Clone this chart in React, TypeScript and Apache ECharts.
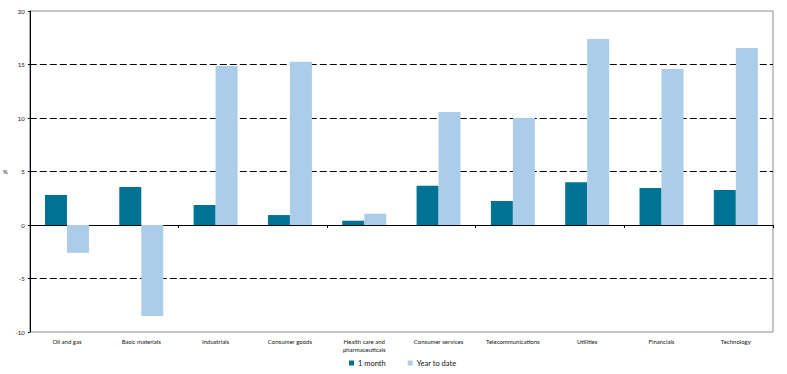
import React, { useEffect, useRef } from "react";
import * as echarts from "echarts";

const categories = [
  "Oil and gas",
  "Basic materials",
  "Industrials",
  "Consumer goods",
  "Health care and\npharmaceuticals",
  "Consumer services",
  "Telecommunications",
  "Utilities",
  "Financials",
  "Technology",
];
const oneMonth = [2.8, 3.55, 1.87, 0.93, 0.4, 3.67, 2.24, 4.0, 3.46, 3.27];
const yearToDate = [-2.6, -8.5, 14.86, 15.26, 1.06, 10.56, 10.0, 17.38, 14.58, 16.54];
const seriesNames = ["1 month", "Year to date"];

export default function App() {
  const ref = useRef<HTMLDivElement>(null);
  useEffect(() => {
    document.body.style.margin = "0";
    const chart = echarts.init(ref.current!, null, { renderer: "svg" });
    const font = "Lato, 'DejaVu Sans', sans-serif";
    chart.setOption({
      animation: false,
      textStyle: { fontFamily: font },
      grid: {
        left: 27,
        right: 14,
        top: 11,
        bottom: 42,
        show: true,
        borderColor: "#8c8c8c",
        borderWidth: 1,
      },
      legend: {
        left: 344,
        bottom: 2,
        itemWidth: 5,
        itemHeight: 5,
        itemGap: 22,
        icon: "rect",
        textStyle: { fontSize: 7.5, color: "#111", fontFamily: font, padding: [0, 0, 0, -1] },
        data: seriesNames,
      },
      xAxis: [
        {
          type: "category",
          data: categories,
          position: "bottom",
          axisLine: { show: false, onZero: false },
          axisTick: { show: false },
          axisLabel: { fontSize: 6, color: "#111", margin: 5, interval: 0, lineHeight: 8.5 },
        },
        {
          type: "category",
          data: categories,
          position: "bottom",
          axisLine: { show: true, onZero: true, lineStyle: { color: "#000", width: 1 } },
          axisTick: { show: true, length: 3, alignWithLabel: false, lineStyle: { color: "#000" } },
          axisLabel: { show: false },
        },
      ],
      yAxis: {
        type: "value",
        min: -10,
        max: 20,
        interval: 5,
        name: "%",
        nameLocation: "middle",
        nameRotate: 0,
        nameGap: 22,
        nameTextStyle: { fontSize: 6, color: "#111", padding: [0, 0, 55, 0] },
        axisLine: { show: true, lineStyle: { color: "#000", width: 1 } },
        axisTick: { show: true, length: 2, lineStyle: { color: "#000" } },
        axisLabel: { fontSize: 6, color: "#111", margin: 5 },
        splitLine: {
          show: true,
          lineStyle: {
            color: ["rgba(0,0,0,0)", "#000", "#000", "#000", "#000", "#000", "rgba(0,0,0,0)"],
            type: [7, 3],
            width: 1,
          },
        },
      },
      series: [
        {
          name: seriesNames[0],
          type: "bar",
          data: oneMonth,
          barWidth: 22,
          barGap: "0%",
          itemStyle: { color: "#007394" },
        },
        {
          name: seriesNames[1],
          type: "bar",
          data: yearToDate,
          barWidth: 22,
          barGap: "0%",
          itemStyle: { color: "#abcdea" },
        },
      ],
    });
    return () => chart.dispose();
  }, []);
  return (
    <div
      ref={ref}
      style={{ width: 787, height: 374, position: "absolute", left: 0, top: 0, background: "#fff" }}
    />
  );
}
